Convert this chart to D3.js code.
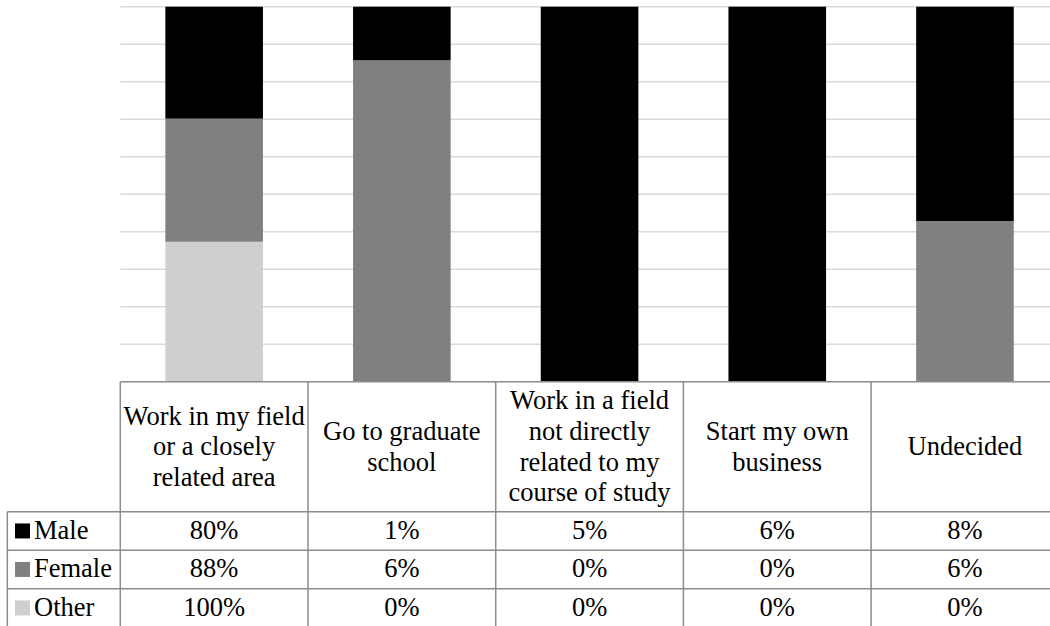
<!DOCTYPE html>
<html>
<head>
<meta charset="utf-8">
<script src="https://cdn.jsdelivr.net/npm/d3@7"></script>
<style>
  html, body { margin: 0; padding: 0; background: #fff; }
  text { font-family: "Times New Roman", "Liberation Serif", Tinos, serif; }
</style>
</head>
<body>
<svg id="chart" width="1050" height="626"></svg>
<script>
// Career plans after graduation, by gender (percent of each group)
const categories = [
  "Work in my field or a closely related area",
  "Go to graduate school",
  "Work in a field not directly related to my course of study",
  "Start my own business",
  "Undecided"
];
const seriesNames = ["Male", "Female", "Other"];
const male   = [80, 1, 5, 6, 8];
const female = [88, 6, 0, 0, 6];
const other  = [100, 0, 0, 0, 0];
const seriesColors = ["#000000", "#808080", "#d0cece"];
const gridTicks = [0.1, 0.2, 0.3, 0.4, 0.5, 0.6, 0.7, 0.8, 0.9, 1.0];

const seriesValues = [male, female, other];
const rows = categories.map((c, i) => ({
  category: c,
  Male: male[i],
  Female: female[i],
  Other: other[i]
}));

const svg = d3.select("#chart");
const fontSize = 26.5;
const lineColor = "#8c8c8c";

// Plot area
const plotLeft = 120.3, band = 187.7;
const plotRight = plotLeft + band * categories.length;
const plotTop = 6.7, plotBottom = 381.7;

const x = d3.scaleBand().domain(categories).range([plotLeft, plotRight]).paddingInner(0.48).paddingOuter(0.24);
const y = d3.scaleLinear().domain([0, 1]).range([plotBottom, plotTop]);
const color = d3.scaleOrdinal().domain(seriesNames).range(seriesColors);

// Horizontal gridlines every 10%
svg.append("g").selectAll("line")
  .data(gridTicks)
  .join("line")
  .attr("x1", plotLeft).attr("x2", plotRight)
  .attr("y1", d => y(d)).attr("y2", d => y(d))
  .attr("stroke", "#d9d9d9").attr("stroke-width", 1.5);

// 100% stacked columns: Other at the bottom, then Female, then Male
const stack = d3.stack()
  .keys(["Other", "Female", "Male"])
  .offset(d3.stackOffsetExpand)
  .order(d3.stackOrderNone);
const stacked = stack(rows);

svg.append("g").selectAll("g")
  .data(stacked)
  .join("g")
  .attr("fill", d => color(d.key))
  .selectAll("rect")
  .data(d => d)
  .join("rect")
  .attr("x", d => x(d.data.category))
  .attr("width", x.bandwidth())
  .attr("y", d => isNaN(d[1]) ? plotBottom : y(d[1]))
  .attr("height", d => (isNaN(d[0]) || isNaN(d[1])) ? 0 : y(d[0]) - y(d[1]));

// Data table underneath
const headerBottom = 511.7, rowH = 38.5;
const tableLeft = 7.3;
const tableBottom = headerBottom + rowH * seriesNames.length;
const cellX = i => plotLeft + band * i;

function label() {
  return svg.append("text")
    .attr("font-family", "Times New Roman")
    .attr("font-size", fontSize)
    .attr("fill", "#000");
}

// table rules
const rules = svg.append("g");
rules.append("line")
  .attr("x1", plotLeft).attr("x2", plotRight)
  .attr("y1", plotBottom).attr("y2", plotBottom);
d3.range(seriesNames.length + 1).forEach(r => {
  rules.append("line")
    .attr("x1", tableLeft).attr("x2", plotRight)
    .attr("y1", headerBottom + r * rowH).attr("y2", headerBottom + r * rowH);
});
rules.append("line")
  .attr("x1", tableLeft).attr("x2", tableLeft)
  .attr("y1", headerBottom).attr("y2", tableBottom);
d3.range(categories.length + 1).forEach(i => {
  rules.append("line")
    .attr("x1", cellX(i)).attr("x2", cellX(i))
    .attr("y1", plotBottom).attr("y2", tableBottom);
});
rules.selectAll("line").attr("stroke", lineColor).attr("stroke-width", 1.5);

// category header cells with wrapped text
function wrapWords(text, maxW, measurer) {
  const words = text.split(" ");
  const lines = [];
  let cur = "";
  words.forEach(w => {
    const trial = cur ? cur + " " + w : w;
    measurer.text(trial);
    if (cur && measurer.node().getComputedTextLength() > maxW) {
      lines.push(cur);
      cur = w;
    } else {
      cur = trial;
    }
  });
  if (cur) lines.push(cur);
  return lines;
}
const measurer = label().attr("x", -1000).attr("y", -1000);
const lineH = 30.6;
const headerMid = (plotBottom + headerBottom) / 2;
const headerLines = categories.map(c => wrapWords(c, 186, measurer));
measurer.remove();

headerLines.forEach((lines, i) => {
  const first = headerMid - (lines.length - 1) / 2 * lineH + 8.5;
  lines.forEach((ln, k) => {
    label()
      .attr("x", cellX(i) + band / 2)
      .attr("y", first + k * lineH)
      .attr("text-anchor", "middle")
      .text(ln);
  });
});

// series rows: legend key + values
seriesNames.forEach((name, r) => {
  const mid = headerBottom + r * rowH + rowH / 2;
  svg.append("rect")
    .attr("x", 15).attr("y", mid - 7.5)
    .attr("width", 15).attr("height", 15)
    .attr("fill", color(name));
  label()
    .attr("x", 34).attr("y", mid + 8)
    .text(name);
  seriesValues[r].forEach((v, i) => {
    label()
      .attr("x", cellX(i) + band / 2)
      .attr("y", mid + 8)
      .attr("text-anchor", "middle")
      .text(v + "%");
  });
});
</script>
</body>
</html>
